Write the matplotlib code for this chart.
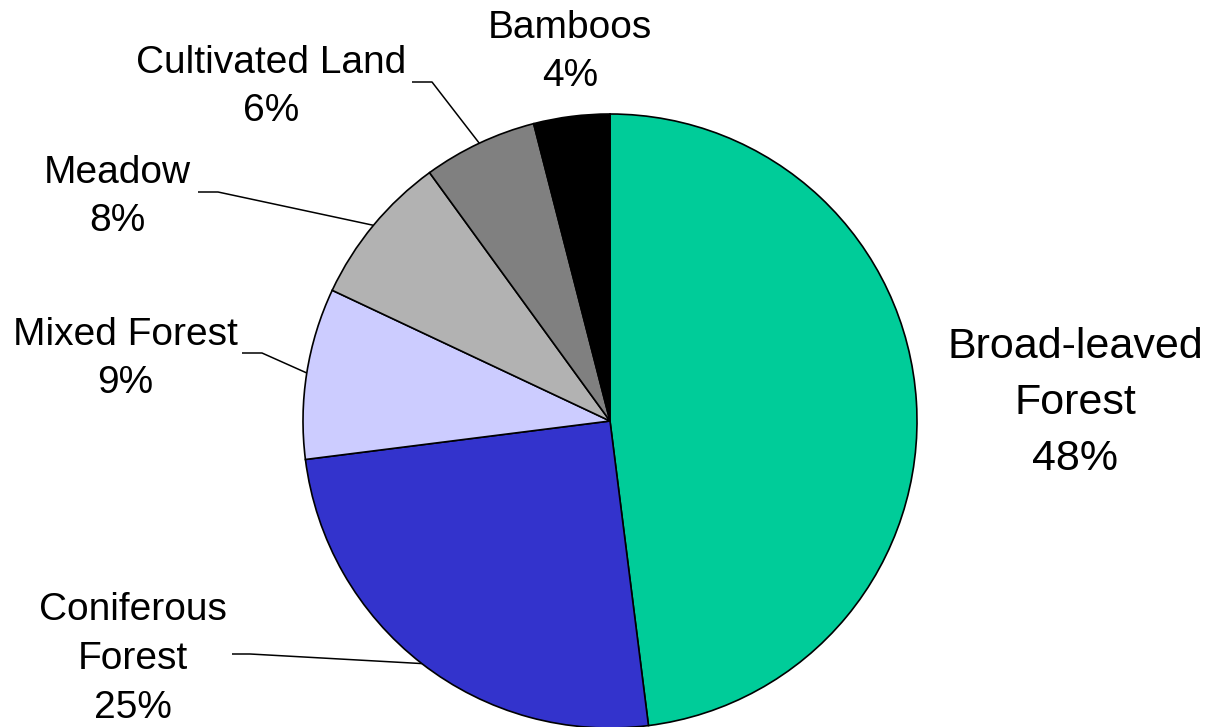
import numpy as np
import matplotlib.pyplot as plt

plt.rcParams['font.family'] = ['Liberation Sans', 'DejaVu Sans']

# data
labels = ['Broad-leaved\nForest', 'Coniferous\nForest', 'Mixed Forest', 'Meadow',
          'Cultivated Land', 'Bamboos']
shares = [48, 25, 9, 8, 6, 4]
colors = ['#00CC99', '#3333CC', '#CCCCFF', '#B2B2B2', '#808080', '#000000']

# layout in pixels (measured from top-left of the 1208x727 image)
W, H = 1208, 727
cx, cy, R = 610, 421, 307
label_pos = [(1075, 403), (133, 659), (125, 359), (117, 197), (271, 87), (570, 52)]
label_size = [31, 28, 28, 28, 28, 28]
label_gap = [1.5, 1.45, 1.45, 1.45, 1.45, 1.45]
# leader line knee: (x where text ends, x of elbow, y)
leaders = {1: (232, 250, 654), 2: (242, 262, 353), 3: (198, 218, 192), 4: (412, 432, 82)}

fig = plt.figure(figsize=(W / 100, H / 100), dpi=100)
ax = fig.add_axes([0, 0, 1, 1])

wedges, _ = ax.pie(shares, colors=colors, startangle=90, counterclock=False,
                   center=(cx, H - cy), radius=R,
                   wedgeprops=dict(edgecolor='black', linewidth=1.2))
ax.set_aspect('auto')
ax.set_xlim(0, W)
ax.set_ylim(0, H)
ax.axis('off')

for i, (lab, v) in enumerate(zip(labels, shares)):
    x, y = label_pos[i]
    ax.text(x, H - y, f'{lab}\n{v}%', ha='center', va='center',
            multialignment='center', fontsize=label_size[i], linespacing=label_gap[i])

for i, (x0, x1, y) in leaders.items():
    w = wedges[i]
    mid = np.deg2rad((w.theta1 + w.theta2) / 2)
    px = cx + R * np.cos(mid)
    py = H - cy + R * np.sin(mid)
    ax.plot([x0, x1, px], [H - y, H - y, py], color='black', lw=1.1,
            solid_capstyle='butt', zorder=0.5)

fig.savefig('out.png', dpi=100, facecolor='white')
